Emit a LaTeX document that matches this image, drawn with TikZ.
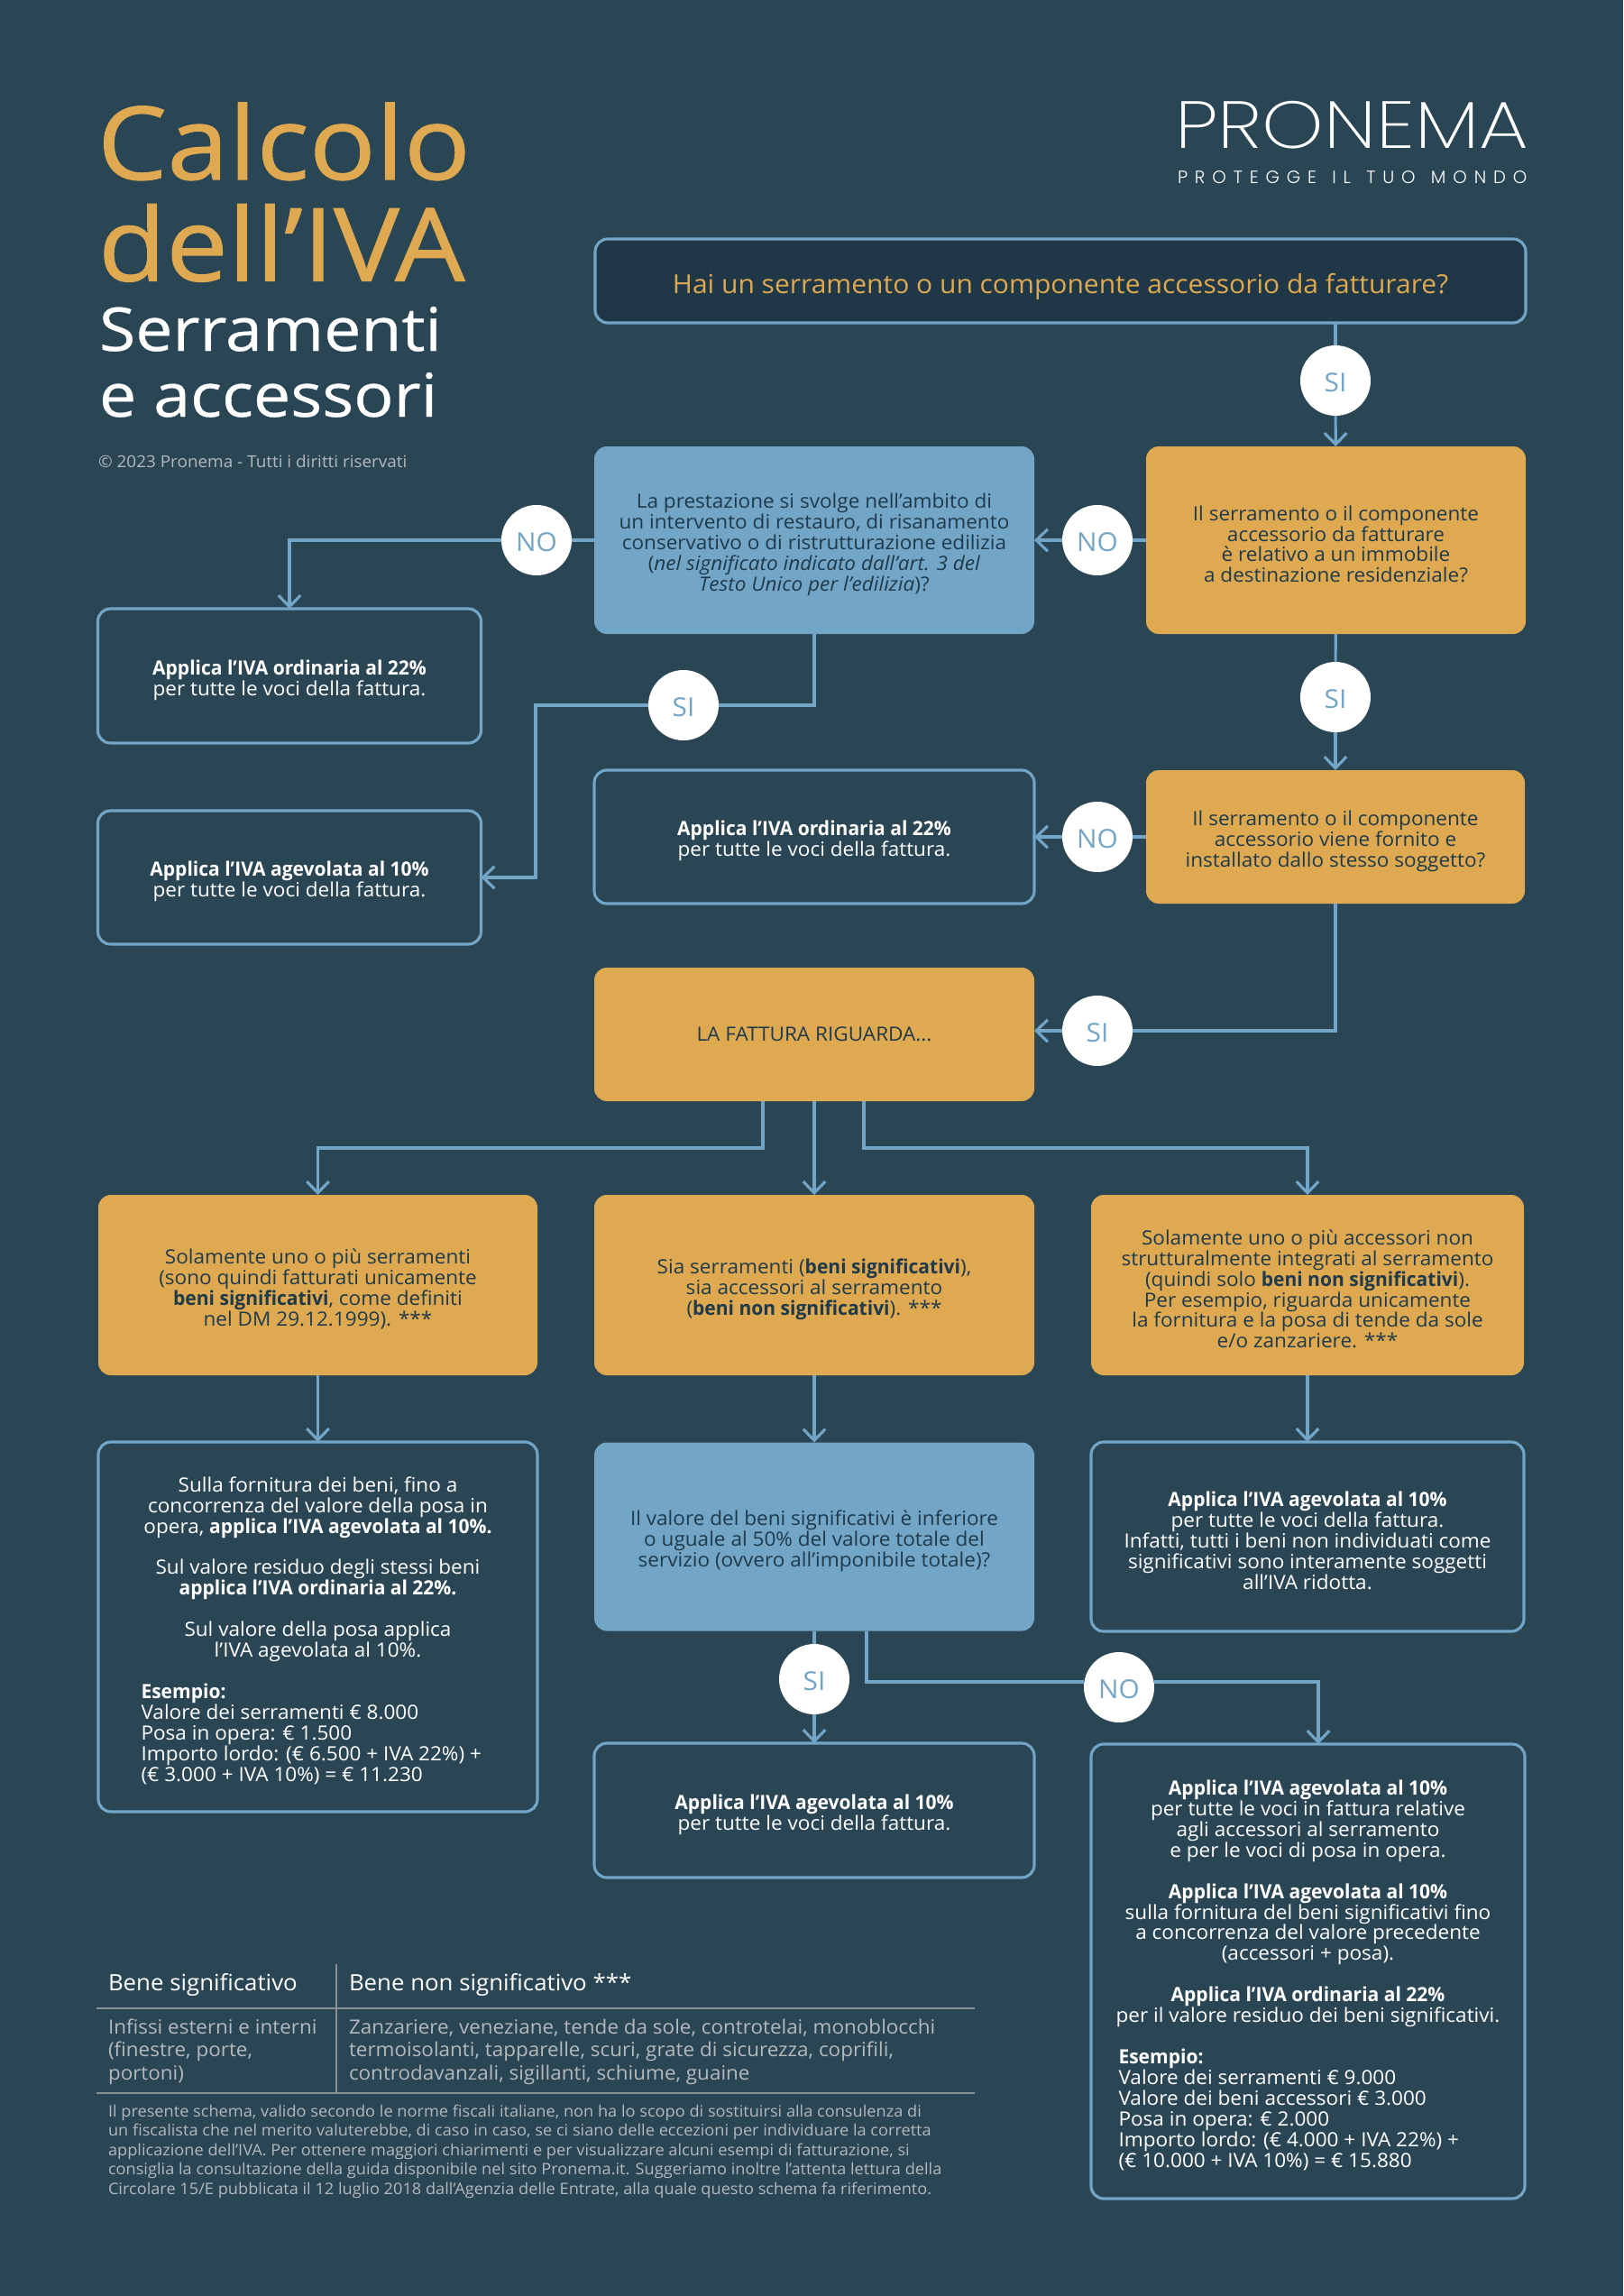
\documentclass[tikz,border=0pt]{standalone}
\usepackage{fontspec}
\usepackage{tikz}
\usetikzlibrary{arrows.meta}
\setmainfont{Open Sans}[FakeStretch=1.035,BoldFeatures={FakeStretch=0.965}]
\newfontfamily\titlefont{Open Sans}[FakeStretch=1.09,FakeBold=0.9]
\newfontfamily\subfont{Open Sans}[FakeStretch=1.1,FakeBold=0.5]
\newfontfamily\logofont{Poppins}[UprightFont=* ExtraLight,FakeStretch=1.18]
\newfontfamily\tagfont{Poppins}[UprightFont=* Light,LetterSpace=40,WordSpace=1.3]
\definecolor{pagecol}{HTML}{2A4554}
\definecolor{deepcol}{HTML}{1F3746}
\definecolor{bluecol}{HTML}{72A5C6}
\definecolor{goldcol}{HTML}{DEA951}
\definecolor{inkcol}{HTML}{1F3A4A}
\definecolor{greycol}{HTML}{B4B9BC}
\definecolor{rulecol}{HTML}{8A9094}
\newcommand{\bodysize}{\fontsize{6.2pt}{6.54pt}\selectfont}
\newcommand{\liftval}{3pt}
\newcommand{\lead}{\rule{0pt}{7.2pt}}
\tikzset{
  lift/.code={\def\liftval{#1}},
  anybox/.style={rounded corners=.14cm,inner sep=0pt,outer sep=0pt,align=center,font=\bodysize,execute at begin node={\rule{0pt}{\liftval}}},
  goldbox/.style={anybox,fill=goldcol,text=inkcol},
  bluebox/.style={anybox,fill=bluecol,text=inkcol},
  linebox/.style={anybox,draw=bluecol,line width=.9pt,text=white},
  badge/.style={circle,fill=white,text=bluecol,inner sep=0pt,outer sep=0pt,minimum size=.78cm,font=\fontsize{8.2pt}{9pt}\selectfont,lift=7pt,execute at begin node={\rule{0pt}{\liftval}}},
  link/.style={draw=bluecol,line width=.9pt},
  linkarrow/.style={link,-{Straight Barb[length=3.6pt,width=7pt]}},
  plain/.style={anchor=base west,inner sep=0pt,outer sep=0pt},
  tablerule/.style={draw=rulecol,line width=.55pt}
}
\begin{document}
\begin{tikzpicture}[x=1cm,y=-1cm]
\fill[pagecol] (0,0) rectangle (18,25.46);
\useasboundingbox (0,0) rectangle (18,25.46);

\node[plain,text=goldcol,font=\titlefont\fontsize{32pt}{32pt}\selectfont] (titleA) at (1.08,1.99) {Calcolo};
\node[plain,text=goldcol,font=\titlefont\fontsize{32pt}{32pt}\selectfont] (titleB) at (1.09,3.115) {dell’IVA};
\node[plain,text=white,font=\subfont\fontsize{19pt}{19pt}\selectfont] (titleC) at (1.1,3.89) {Serramenti};
\node[plain,text=white,font=\subfont\fontsize{19pt}{19pt}\selectfont] (titleD) at (1.1,4.62) {e accessori};
\node[plain,text=greycol,font=\fontsize{5.2pt}{6pt}\selectfont] (copyr) at (1.09,5.18) {© 2023 Pronema - Tutti i diritti riservati};
\node[plain,text=white,font=\logofont\fontsize{21pt}{21pt}\selectfont] (logo) at (13.03,1.65) {PRONEMA};
\node[plain,text=white,font=\tagfont\fontsize{5.6pt}{6pt}\selectfont] (motto) at (13.06,2.04) {PROTEGGE IL TUO MONDO};

\node[linebox,fill=deepcol,text=goldcol,font=\fontsize{8.25pt}{9pt}\selectfont,lift=10pt,minimum width=10.32cm,minimum height=.93cm] (start) at (11.76,3.115) {Hai un serramento o un componente accessorio da fatturare?};

\node[bluebox,minimum width=4.88cm,minimum height=2.08cm] (lavori) at (9.03,5.99) {\lead La prestazione si svolge nell’ambito di\\un intervento di restauro, di risanamento\\conservativo o di ristrutturazione edilizia\\(\textit{nel significato indicato dall’art. 3 del}\\\textit{Testo Unico per l’edilizia})?};
\node[goldbox,minimum width=4.21cm,minimum height=2.08cm] (immobile) at (14.815,5.99) {\lead Il serramento o il componente\\accessorio da fatturare\\è relativo a un immobile\\a destinazione residenziale?};
\node[linebox,minimum width=4.25cm,minimum height=1.49cm] (ordA) at (3.21,7.495) {\lead\textbf{Applica l’IVA ordinaria al 22\%}\\per tutte le voci della fattura.};
\node[linebox,minimum width=4.25cm,minimum height=1.48cm] (agevA) at (3.21,9.73) {\lead\textbf{Applica l’IVA agevolata al 10\%}\\per tutte le voci della fattura.};
\node[linebox,minimum width=4.88cm,minimum height=1.48cm] (ordB) at (9.03,9.28) {\lead\textbf{Applica l’IVA ordinaria al 22\%}\\per tutte le voci della fattura.};
\node[goldbox,minimum width=4.2cm,minimum height=1.48cm] (fornito) at (14.81,9.28) {\lead Il serramento o il componente\\accessorio viene fornito e\\installato dallo stesso soggetto?};
\node[goldbox,minimum width=4.88cm,minimum height=1.48cm] (fattura) at (9.03,11.47) {LA FATTURA RIGUARDA...};

\node[goldbox,minimum width=4.87cm,minimum height=2cm] (soloSerr) at (3.525,14.25) {\lead Solamente uno o più serramenti\\(sono quindi fatturati unicamente\\\textbf{beni significativi}, come definiti\\nel DM 29.12.1999). ***};
\node[goldbox,minimum width=4.88cm,minimum height=2cm] (misto) at (9.03,14.25) {\lead Sia serramenti (\textbf{beni significativi}),\\sia accessori al serramento\\(\textbf{beni non significativi}). ***};
\node[goldbox,minimum width=4.8cm,minimum height=2cm] (soloAcc) at (14.5,14.25) {\lead Solamente uno o più accessori non\\strutturalmente integrati al serramento\\(quindi solo \textbf{beni non significativi}).\\Per esempio, riguarda unicamente\\la fornitura e la posa di tende da sole\\e/o zanzariere. ***};

\node[linebox,minimum width=4.87cm,minimum height=4.1cm] (resL) at (3.525,18.04) {\lead Sulla fornitura dei beni, fino a\\concorrenza del valore della posa in\\opera, \textbf{applica l’IVA agevolata al 10\%.}\\[6.54pt]Sul valore residuo degli stessi beni\\\textbf{applica l’IVA ordinaria al 22\%.}\\[6.54pt]Sul valore della posa applica\\l’IVA agevolata al 10\%.\\[6.54pt]\parbox[t]{3.92cm}{\raggedright\textbf{Esempio:}\\Valore dei serramenti € 8.000\\Posa in opera: € 1.500\\Importo lordo: (€ 6.500 + IVA 22\%) +\\(€ 3.000 + IVA 10\%) = € 11.230}};
\node[bluebox,minimum width=4.88cm,minimum height=2.09cm] (soglia) at (9.03,17.04) {\lead Il valore del beni significativi è inferiore\\o uguale al 50\% del valore totale del\\servizio (ovvero all’imponibile totale)?};
\node[linebox,minimum width=4.8cm,minimum height=2.1cm] (resR) at (14.5,17.04) {\lead\textbf{Applica l’IVA agevolata al 10\%}\\per tutte le voci della fattura.\\Infatti, tutti i beni non individuati come\\significativi sono interamente soggetti\\all’IVA ridotta.};
\node[linebox,minimum width=4.88cm,minimum height=1.49cm] (resM) at (9.03,20.075) {\lead\textbf{Applica l’IVA agevolata al 10\%}\\per tutte le voci della fattura.};
\node[linebox,minimum width=4.81cm,minimum height=5.04cm] (resBig) at (14.505,21.86) {\lead\textbf{Applica l’IVA agevolata al 10\%}\\per tutte le voci in fattura relative\\agli accessori al serramento\\e per le voci di posa in opera.\\[6.54pt]\textbf{Applica l’IVA agevolata al 10\%}\\sulla fornitura del beni significativi fino\\a concorrenza del valore precedente\\(accessori + posa).\\[6.54pt]\textbf{Applica l’IVA ordinaria al 22\%}\\per il valore residuo dei beni significativi.\\[6.54pt]\parbox[t]{4.2cm}{\raggedright\textbf{Esempio:}\\Valore dei serramenti € 9.000\\Valore dei beni accessori € 3.000\\Posa in opera: € 2.000\\Importo lordo: (€ 4.000 + IVA 22\%) +\\(€ 10.000 + IVA 10\%) = € 15.880}};

\node[badge] (siA) at (14.81,4.22) {SI};
\node[badge] (noA) at (12.17,5.99) {NO};
\node[badge] (noB) at (5.95,5.99) {NO};
\node[badge] (siB) at (14.81,7.73) {SI};
\node[badge] (siC) at (7.58,7.82) {SI};
\node[badge] (noC) at (12.17,9.28) {NO};
\node[badge] (siD) at (12.17,11.43) {SI};
\node[badge] (siE) at (9.03,18.62) {SI};
\node[badge] (noD) at (12.41,18.71) {NO};

\coordinate (bendC) at (5.94,7.82);
\coordinate (fatturaL) at (8.46,12.21);
\coordinate (fatturaR) at (9.58,12.21);
\coordinate (sogliaR) at (9.61,18.09);
\coordinate (noLine) at (12.41,18.65);
\coordinate (bigTip) at (14.62,19.34);

\draw[link] (siA |- start.south) -- (siA);
\draw[linkarrow] (siA) -- (immobile);
\draw[link] (immobile) -- (noA);
\draw[linkarrow] (noA) -- (lavori);
\draw[link] (lavori) -- (noB);
\draw[linkarrow] (noB) -| (ordA);
\draw[link] (lavori) |- (siC);
\draw[linkarrow] (siC) -- (bendC) |- (agevA);
\draw[link] (immobile) -- (siB);
\draw[linkarrow] (siB) -- (fornito);
\draw[link] (fornito) -- (noC);
\draw[linkarrow] (noC) -- (ordB);
\draw[link] (fornito) |- (siD);
\draw[linkarrow] (siD) -- (siD -| fattura.east);
\draw[linkarrow] (fatturaL) -- ++(0,.52) -| (soloSerr);
\draw[linkarrow] (fattura) -- (misto);
\draw[linkarrow] (fatturaR) -- ++(0,.52) -| (soloAcc);
\draw[linkarrow] (soloSerr) -- (resL);
\draw[linkarrow] (misto) -- (soglia);
\draw[linkarrow] (soloAcc) -- (resR);
\draw[link] (soglia) -- (siE);
\draw[linkarrow] (siE) -- (resM);
\draw[link] (sogliaR) |- (noD.west |- noLine);
\draw[linkarrow] (noD.east |- noLine) -| (bigTip);

\draw[tablerule] (3.73,21.78) -- (3.73,23.2);
\draw[tablerule] (1.07,22.27) -- (10.81,22.27);
\draw[tablerule] (1.07,23.21) -- (10.81,23.21);
\node[plain,text=white,font=\fontsize{7.1pt}{8pt}\selectfont] (headA) at (1.2,22.07) {Bene significativo};
\node[plain,text=white,font=\fontsize{7.1pt}{8pt}\selectfont] (headB) at (3.87,22.07) {Bene non significativo ***};
\node[plain,text=greycol,align=left,font=\fontsize{6.17pt}{7.25pt}\selectfont] (cellA) at (1.2,23.06) {Infissi esterni e interni\\(finestre, porte,\\portoni)};
\node[plain,text=greycol,align=left,font=\fontsize{6.17pt}{7.25pt}\selectfont] (cellB) at (3.87,23.06) {Zanzariere, veneziane, tende da sole, controtelai, monoblocchi\\termoisolanti, tapparelle, scuri, grate di sicurezza, coprifili,\\controdavanzali, sigillanti, schiume, guaine};
\node[plain,text=greycol,align=left,font=\fontsize{5pt}{6.1pt}\selectfont] (notes) at (1.2,24.33) {Il presente schema, valido secondo le norme fiscali italiane, non ha lo scopo di sostituirsi alla consulenza di\\un fiscalista che nel merito valuterebbe, di caso in caso, se ci siano delle eccezioni per individuare la corretta\\applicazione dell’IVA. Per ottenere maggiori chiarimenti e per visualizzare alcuni esempi di fatturazione, si\\consiglia la consultazione della guida disponibile nel sito Pronema.it. Suggeriamo inoltre l’attenta lettura della\\Circolare 15/E pubblicata il 12 luglio 2018 dall’Agenzia delle Entrate, alla quale questo schema fa riferimento.};
\end{tikzpicture}
\end{document}
